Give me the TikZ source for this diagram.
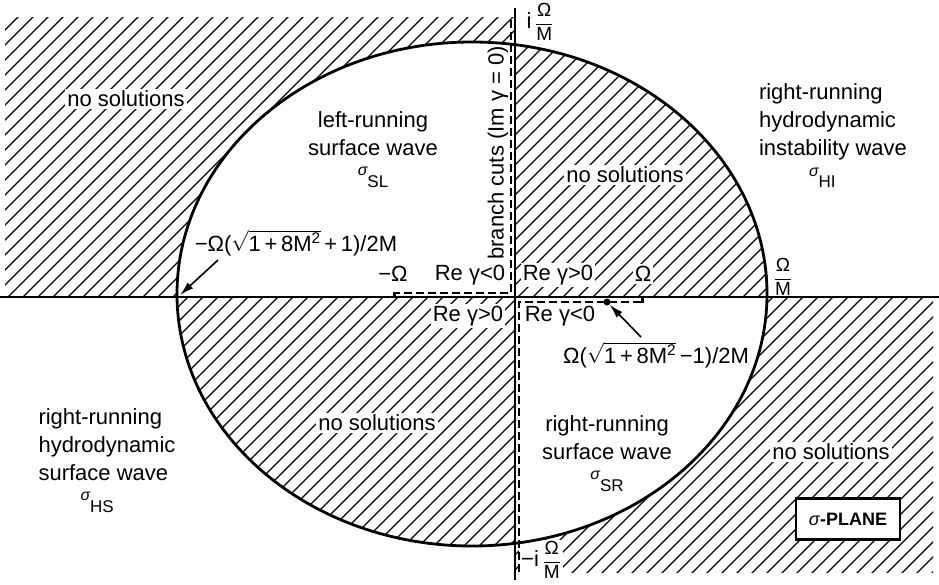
\documentclass[tikz,border=0pt]{standalone}
\usepackage{fontspec}
\setmainfont{Liberation Sans}
\usetikzlibrary{arrows.meta}

% sigma with index, raised as in the plane sketch
\newcommand{\sgm}[1]{{\fontsize{17}{17}\selectfont\raisebox{0.7em}{\fontsize{16}{16}\selectfont\itshape σ}#1}}
\newcommand{\frc}[2]{{\fontsize{19}{19}\selectfont$\displaystyle\frac{\mbox{#1}}{\mbox{#2}}$}}
\newcommand{\rt}[1]{$\sqrt{\mbox{#1}}$}
\newcommand{\hatchfill}{\foreach \k in {-640,-625,...,950} \draw[hatch] (\k,600) -- ++(620,-620);}

\begin{document}
\begin{tikzpicture}[
  x=1pt, y=-1pt,
  font=\fontsize{22}{28}\selectfont,
  hatch/.style={line width=1.2pt},
  curve/.style={line width=2.8pt},
  axis/.style={line width=2.4pt},
  cut/.style={dash pattern=on 8pt off 4pt, line width=2pt},
  lbl/.style={fill=white, inner sep=2pt},
  arr/.style={-{Latex[length=14pt,width=8pt]}, line width=1.6pt}
]
\useasboundingbox (0,0) rectangle (939,584);

% hatched regions: outer ones first, ellipse blanked, then inner ones
\begin{scope}
  \clip (5,17) rectangle (515,297);
  \hatchfill
\end{scope}
\begin{scope}
  \clip (515,297) rectangle (933,572);
  \hatchfill
\end{scope}
\fill[white] (472,294) ellipse [x radius=295, y radius=252];
\begin{scope}
  \clip (515,0) rectangle (939,297);
  \clip (472,294) ellipse [x radius=295, y radius=252];
  \hatchfill
\end{scope}
\begin{scope}
  \clip (0,297) rectangle (515,584);
  \clip (472,294) ellipse [x radius=295, y radius=252];
  \hatchfill
\end{scope}

% region labels
\node[lbl] (nsTL) at (126,99) {no solutions};
\node[lbl] (nsTR) at (625,175) {no solutions};
\node[lbl] (nsBL) at (377,423) {no solutions};
\node[lbl] (nsBR) at (831,452) {no solutions};
\node[align=center] (sl) at (373,150) {left-running\\surface wave\\[4pt]\sgm{SL}};
\node[align=left] (hi) at (833,136) {right-running\\hydrodynamic\\instability wave\\[4pt]\hspace*{50pt}\sgm{HI}};
\node[align=left] (hs) at (107,461) {right-running\\hydrodynamic\\surface wave\\[4pt]\hspace*{42pt}\sgm{HS}};
\node[align=center] (sr) at (607,454) {right-running\\surface wave\\[4pt]\sgm{SR}};

% axis labels
\node[lbl] (reUL) at (470,275) {Re γ<0};
\node[lbl] (reUR) at (558,275) {Re γ>0};
\node[lbl] (reLL) at (468,316) {Re γ>0};
\node[lbl] (reLR) at (560,316) {Re γ<0};
\node[lbl] (mOm) at (393,274) {−Ω};
\node[lbl] (pOm) at (643,274) {Ω};
\node[lbl] (ommR) at (783,277) {\frc{Ω}{M}};
\node (ommT) at (540,22) {i\,\frc{Ω}{M}};
\node[lbl] (ommB) at (541,560) {−i\,\frc{Ω}{M}};
\node[lbl] (lrootlbl) at (296,243) {−Ω(\rt{1\,+\,8M\textsuperscript{2}}\,+\,1)/2M};
\node[lbl] (rrootlbl) at (656,355) {Ω(\rt{1\,+\,8M\textsuperscript{2}}\,−1)/2M};
\node[rotate=90] (cuts) at (498,153) {branch cuts (Im γ = 0)};
\node[draw, line width=2.5pt, fill=white, minimum width=104pt, minimum height=41pt] (plane) at (848,519)
  {\fontsize{18}{18}\selectfont{\itshape σ}\textbf{-PLANE}};

% ellipse and axes
\draw[curve] (472,294) ellipse [x radius=295, y radius=252];
\draw[axis] (0,297) -- (939,297);
\draw[axis] (515,8) -- (515,580);

% branch cuts
\draw[cut] (511,20) |- (393,293);
\draw[cut] (519,572) |- (643,302);
\draw[line width=3pt] (394,292) -- (394,297);
\draw[line width=3pt] (642,303) -- (642,297);

% roots and arrows
\coordinate (lroot) at (180,295);
\coordinate (ltail) at (218,260);
\coordinate (rtail) at (641,337);
\node[circle, fill, inner sep=0pt, minimum size=7pt] (rroot) at (607,302) {};
\draw[arr] (ltail) -- (lroot);
\draw[arr] (rtail) -- (rroot);
\end{tikzpicture}
\end{document}
